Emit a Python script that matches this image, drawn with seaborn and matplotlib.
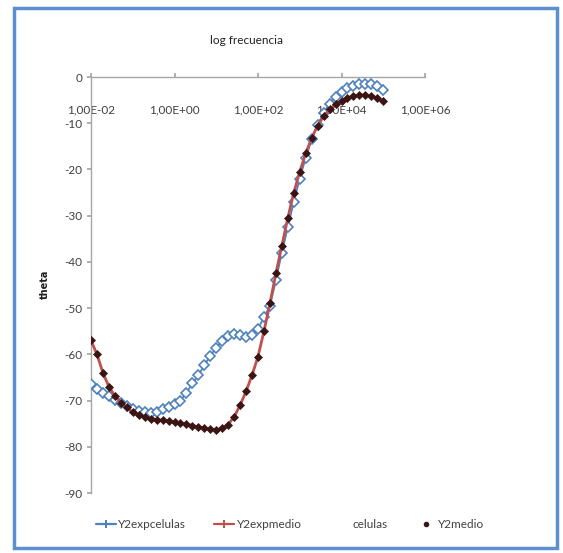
import numpy as np
import pandas as pd
import seaborn as sns
import matplotlib.pyplot as plt
from matplotlib.patches import Rectangle
from matplotlib.lines import Line2D

# Frequency sweep: 1e-2 .. 1e5 Hz, 7 points per decade
log_freq = [-2 + k / 7 for k in range(50)]
freq = [10 ** v for v in log_freq]

# Phase angle (degrees), cell suspension
y2_exp_celulas = [
    -66.5, -67.5, -68.3, -69.0, -69.8, -70.5, -71.2, -71.8, -72.2, -72.5,
    -72.6, -72.4, -71.9, -71.3, -70.8, -70.0, -68.3, -66.3, -64.5, -62.4,
    -60.3, -58.6, -57.1, -56.1, -55.7, -55.8, -56.2, -55.8, -54.5, -52.0,
    -49.5, -44.0, -38.0, -32.5, -27.0, -22.0, -17.5, -13.5, -10.3, -7.8,
    -5.8, -4.3, -3.2, -2.4, -1.9, -1.6, -1.5, -1.6, -2.0, -2.8,
]

# Phase angle (degrees), medium only
y2_exp_medio = [
    -57.0, -60.0, -64.0, -67.0, -69.0, -70.5, -71.5, -72.5, -73.2, -73.6,
    -73.9, -74.1, -74.3, -74.5, -74.7, -74.9, -75.1, -75.4, -75.7, -76.0,
    -76.2, -76.3, -76.0, -75.2, -73.5, -71.0, -68.0, -64.5, -60.5, -55.0,
    -49.0, -42.5, -36.5, -30.5, -25.0, -20.5, -16.5, -13.2, -10.5, -8.5,
    -7.0, -5.9, -5.1, -4.5, -4.1, -3.9, -3.9, -4.1, -4.6, -5.3,
]
y2_medio = list(y2_exp_medio)

x_ticks = [1e-2, 1e0, 1e2, 1e4, 1e6]
x_tick_labels = ["1,00E-02", "1,00E+00", "1,00E+02", "1,00E+04", "1,00E+06"]
y_ticks = [0, -10, -20, -30, -40, -50, -60, -70, -80, -90]

df = pd.DataFrame({"freq": freq, "celulas": y2_exp_celulas,
                   "medio": y2_exp_medio, "medio_pts": y2_medio})

sns.set_theme(style="white")
plt.rcParams["font.family"] = ["Lato", "DejaVu Sans"]

BLUE = "#4F81BD"
RED = "#C0504D"
DARK = "#3B1414"
AXIS = "#A6A6A6"
TXT = "#404040"

fig = plt.figure(figsize=(5.63, 5.53), dpi=100)
ax = fig.add_axes([91 / 563, 1 - 493 / 553, 334 / 563, 416 / 553])

sns.lineplot(data=df, x="freq", y="celulas", ax=ax, color=BLUE, lw=1.3,
             marker="D", markersize=4.6, markerfacecolor="white",
             markeredgecolor=BLUE, markeredgewidth=1.2, sort=False, zorder=3)
sns.lineplot(data=df, x="freq", y="medio", ax=ax, color=RED, lw=2.0,
             sort=False, zorder=4)
sns.lineplot(data=df, x="freq", y="medio_pts", ax=ax, color=DARK, lw=0,
             marker="D", markersize=4.2, markerfacecolor=DARK,
             markeredgecolor=DARK, markeredgewidth=0.5, sort=False, zorder=5)

ax.set_xscale("log")
ax.set_xlim(1e-2, 1e6)
ax.set_ylim(-90, 0)
ax.set_xticks(x_ticks)
ax.set_xticklabels(x_tick_labels)
ax.minorticks_off()
ax.set_yticks(y_ticks)
ax.set_yticklabels([str(v) for v in y_ticks])

for side in ("right", "bottom"):
    ax.spines[side].set_visible(False)
for side in ("left", "top"):
    ax.spines[side].set_color(AXIS)
    ax.spines[side].set_linewidth(1.0)

ax.tick_params(axis="x", top=True, bottom=False, labeltop=True,
               labelbottom=False, direction="out", length=3, color=AXIS,
               pad=-31, labelsize=8.5, labelcolor=TXT)
ax.tick_params(axis="y", left=True, direction="out", length=3, color=AXIS,
               pad=3, labelsize=8.5, labelcolor=TXT)

ax.set_xlabel("")
ax.set_ylabel("")
fig.text(247 / 563, 1 - 40 / 553, "log frecuencia", ha="center",
         va="center", fontsize=8.5, color="#202020")
fig.text(45 / 563, 1 - 284 / 553, "theta", ha="center", va="center",
         rotation=90, fontsize=7, fontweight="bold", color="#202020",
         family=["DejaVu Sans"])

handles = [
    Line2D([], [], color=BLUE, lw=1.6, marker="+", markersize=6,
           markeredgewidth=1.4),
    Line2D([], [], color=RED, lw=1.6, marker="+", markersize=6,
           markeredgewidth=1.4),
    Line2D([], [], color="none", lw=0),
    Line2D([], [], color=DARK, lw=0, marker="o", markersize=3),
]
labels = ["Y2expcelulas", "Y2expmedio", "celulas", "Y2medio"]
fig.legend(handles, labels, loc="center", bbox_to_anchor=(290 / 563, 1 - 525 / 553),
           ncol=4, frameon=False, fontsize=8.5, handlelength=1.7,
           handletextpad=0.2, columnspacing=2.4, labelcolor=TXT)

fig.patches.append(Rectangle((14 / 563, 1 - 548 / 553), 543 / 563, 540 / 553,
                             transform=fig.transFigure, fill=False,
                             edgecolor="#5B8FD0", lw=2.5, zorder=10))

fig.savefig("out.png", dpi=100)
